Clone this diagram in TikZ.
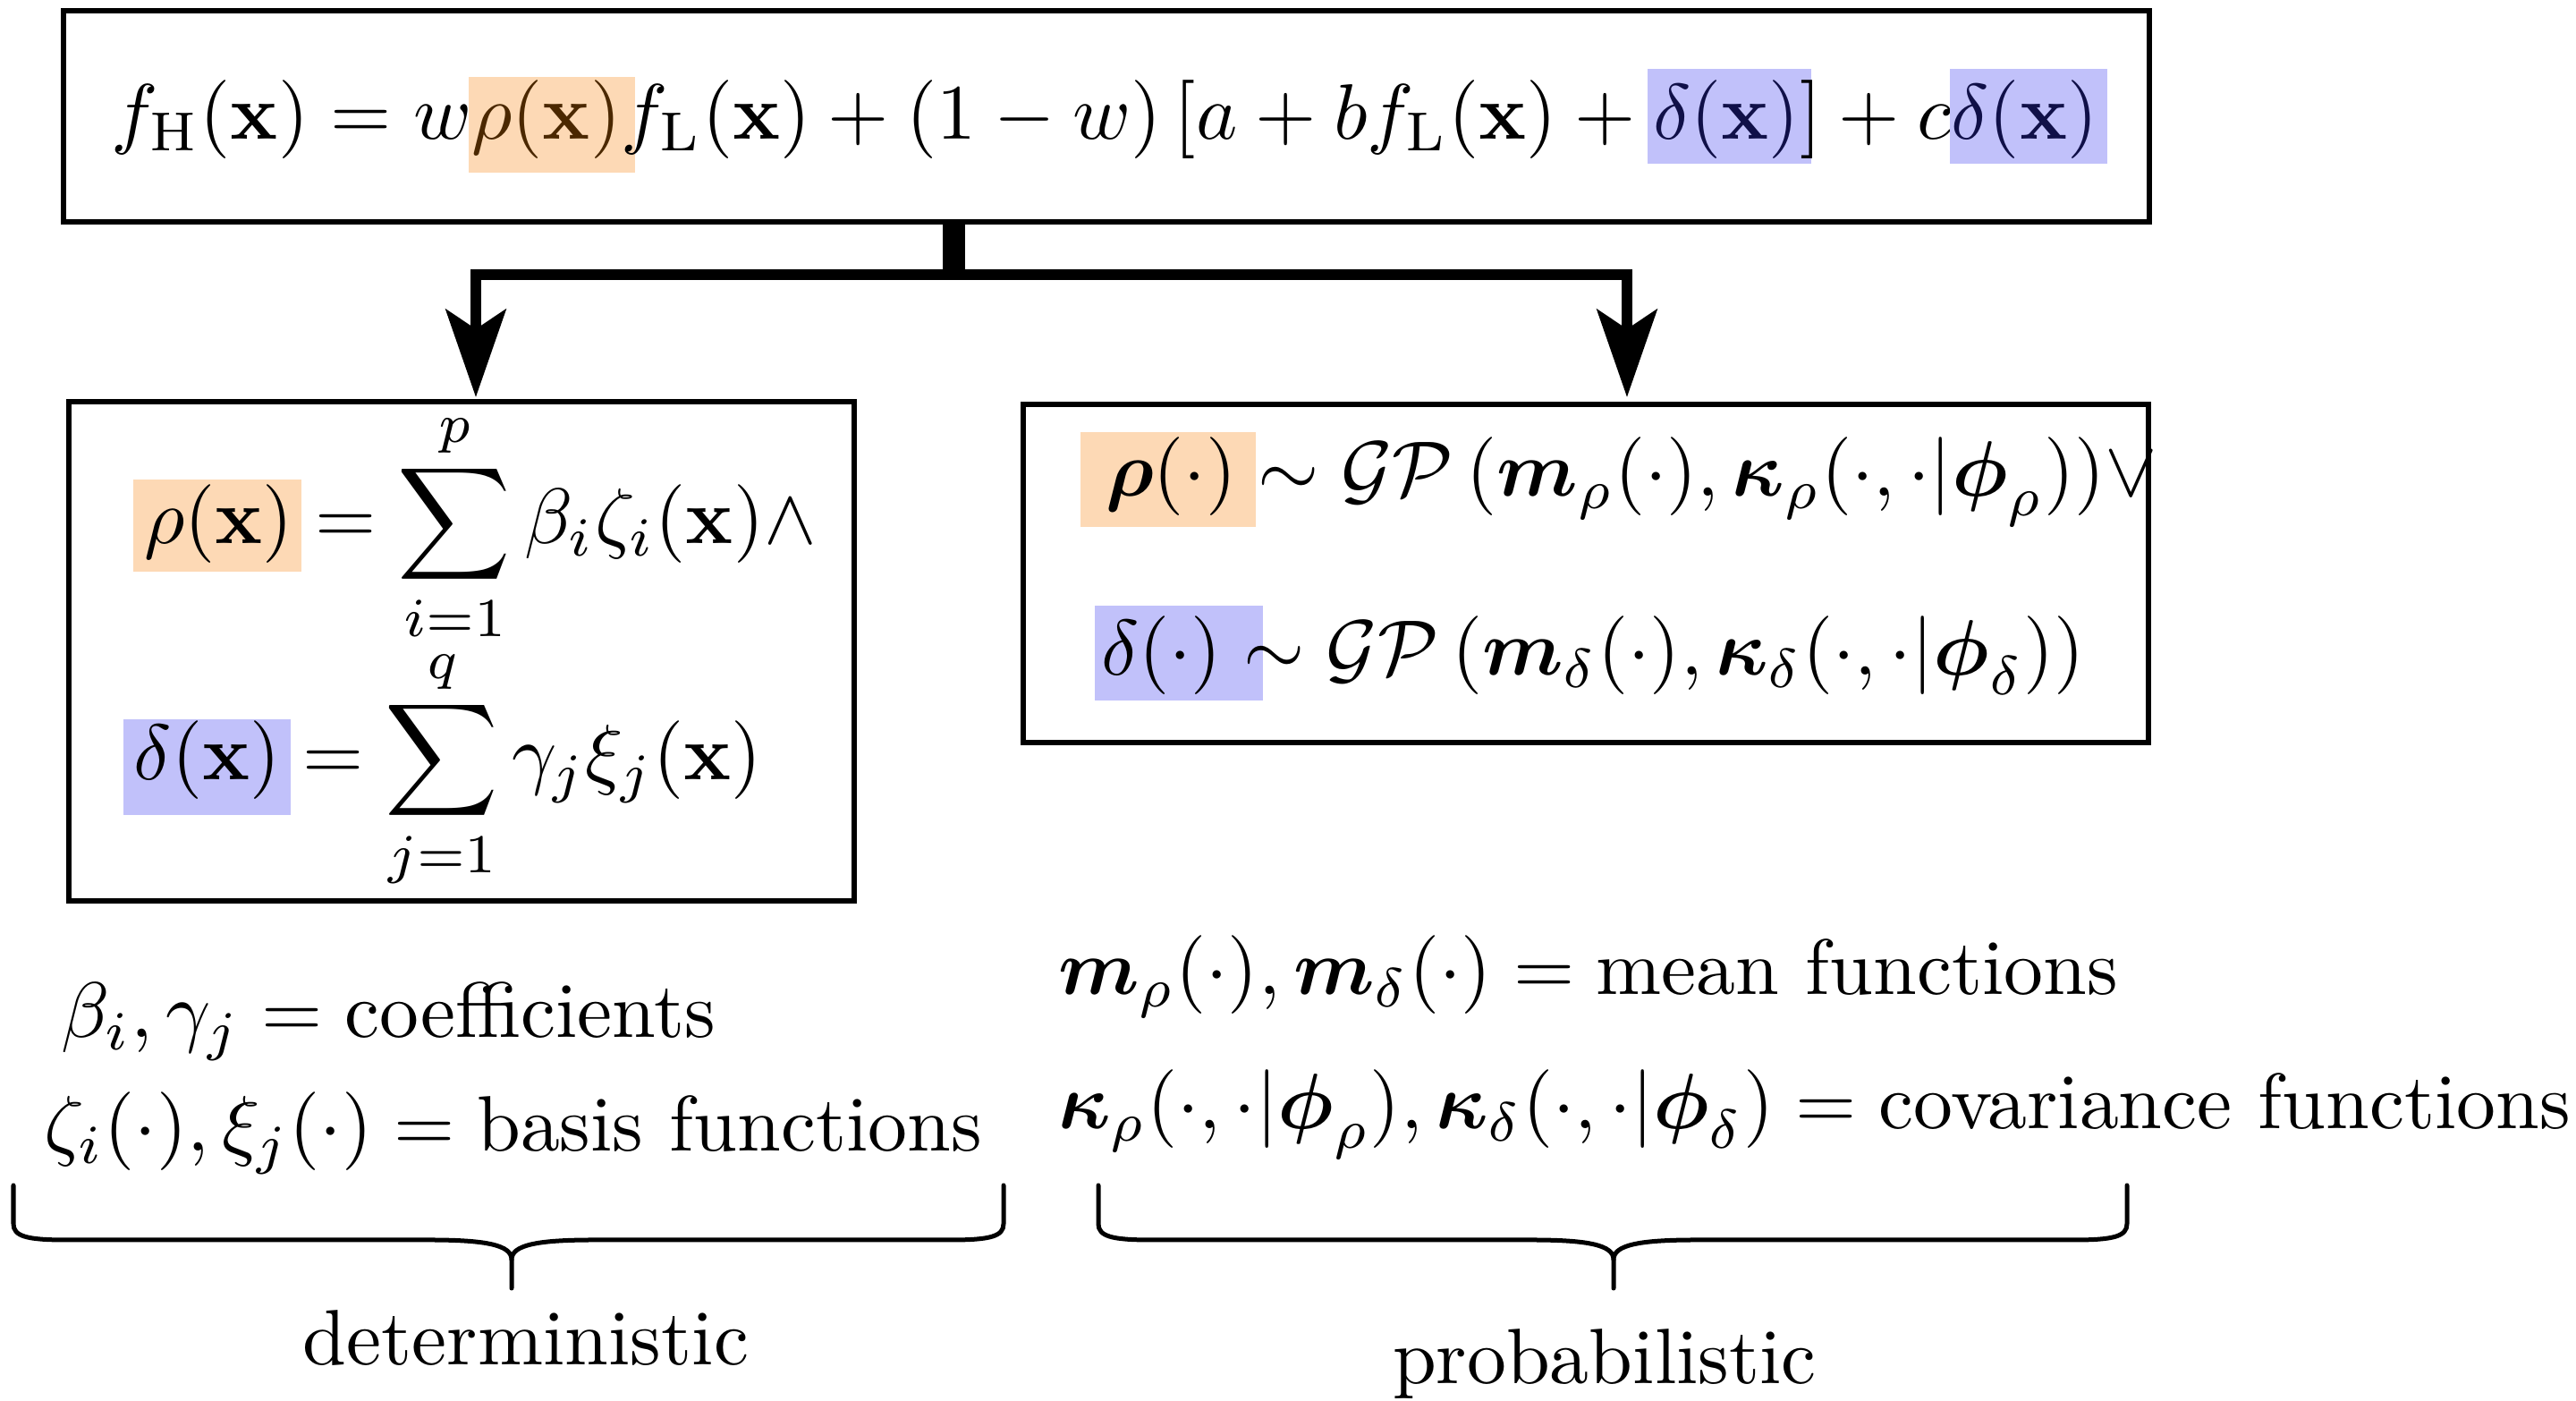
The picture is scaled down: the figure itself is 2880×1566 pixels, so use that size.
\documentclass[tikz,border=0pt]{standalone}
\usepackage{amsmath,amssymb}
\usetikzlibrary{arrows.meta}
\definecolor{hlorange}{RGB}{253,217,181}
\definecolor{hlblue}{RGB}{193,193,250}
\definecolor{hlotext}{RGB}{75,40,0}
\definecolor{hlbtext}{RGB}{16,16,72}
% #1 bg colour, #2 left pad, #3 right pad, #4 height above baseline, #5 depth, #6 math content
\newcommand{\hlm}[6]{\setbox0=\hbox{$\displaystyle #6$}\mathord{\kern-#2\rlap{\color{#1}\rule[-#5]{\dimexpr\wd0+#2+#3\relax}{\dimexpr#4+#5\relax}}\kern#2\box0}}
\tikzset{
  every node/.style={font=\fontsize{10pt}{12pt}\selectfont, inner sep=0pt, outer sep=0pt},
  box/.style={draw, line width=0.684pt, rectangle},
  stem/.style={line width=2.85pt},
  bar/.style={line width=1.37pt, line join=miter, -{Stealth[length=11.17pt,width=7.64pt,inset=2.5pt]}},
  brace/.style={line width=0.57pt, line cap=round, line join=round},
  eq/.style={anchor=base west},
  lbl/.style={anchor=base},
}
\begin{document}
\begin{tikzpicture}[x=0.11396pt, y=-0.11396pt]
\useasboundingbox (0,0) rectangle (2880,1566);
% boxes
\node[box, minimum width=265.75pt, minimum height=26.89pt] (top) at (1237,130) {};
\node[box, minimum width=100.06pt, minimum height=63.59pt] (left) at (516,728) {};
\node[box, minimum width=143.36pt, minimum height=43.08pt] (right) at (1773,641) {};
% top equation
\node[lbl] (topeq) at (1235,155.5) {$f_{\mathrm{H}}(\mathbf{x}) = w\hlm{hlorange}{0.34pt}{1.82pt}{7.92pt}{4.27pt}{\color{hlotext}\rho(\mathbf{x})}f_{\mathrm{L}}(\mathbf{x}) + (1-w)\,[a + bf_{\mathrm{L}}(\mathbf{x}) + \hlm{hlblue}{0.68pt}{1.48pt}{8.95pt}{3.13pt}{\color{hlbtext}\delta(\mathbf{x})}] + c\hlm{hlblue}{0.23pt}{1.25pt}{8.95pt}{3.13pt}{\color{hlbtext}\delta(\mathbf{x})}$};
% connectors
\coordinate (j) at (1066,307);
\coordinate (la) at (532,444);
\coordinate (ra) at (1819,444);
\draw[stem] (j |- top.south) -- (j);
\draw[bar] (j) -| (la);
\draw[bar] (j) -| (ra);
% left box content
\node[eq] (l1) at (161,608) {$\displaystyle \hlm{hlorange}{1.37pt}{1.03pt}{8.2pt}{3.53pt}{\rho(\mathbf{x})} = \sum_{i=1}^{p}\beta_i\zeta_i(\mathbf{x})\wedge$};
\node[eq] (l2) at (150,872) {$\displaystyle \hlm{hlblue}{1.37pt}{1.25pt}{7.75pt}{4.44pt}{\delta(\mathbf{x})} = \sum_{j=1}^{q}\gamma_j\xi_j(\mathbf{x})$};
% right box content
\node[eq] (r1) at (1236,555) {$\hlm{hlorange}{3.19pt}{2.5pt}{8.2pt}{3.87pt}{\boldsymbol{\rho}(\cdot)} \sim \mathcal{GP}\,(\boldsymbol{m}_\rho(\cdot), \boldsymbol{\kappa}_\rho(\cdot,\cdot|\boldsymbol{\phi}_\rho))\vee$};
\node[eq] (r2) at (1231,755) {$\hlm{hlblue}{0.8pt}{5.24pt}{8.89pt}{3.19pt}{\delta(\cdot)} \sim \mathcal{GP}\,(\boldsymbol{m}_\delta(\cdot), \boldsymbol{\kappa}_\delta(\cdot,\cdot|\boldsymbol{\phi}_\delta))$};
% definitions below
\node[eq] (d1) at (68,1160) {$\beta_i, \gamma_j = \text{coefficients}$};
\node[eq] (d2) at (49,1287) {$\zeta_i(\cdot), \xi_j(\cdot) = \text{basis functions}$};
\node[eq] (p1) at (1183,1112) {$\boldsymbol{m}_\rho(\cdot), \boldsymbol{m}_\delta(\cdot) = \text{mean functions}$};
\node[eq] (p2) at (1183,1262) {$\boldsymbol{\kappa}_\rho(\cdot,\cdot|\boldsymbol{\phi}_\rho), \boldsymbol{\kappa}_\delta(\cdot,\cdot|\boldsymbol{\phi}_\delta) = \text{covariance functions}$};
% braces
\draw[brace] (15,1325) -- (15,1368) .. controls (15,1382) and (30,1386) .. (74,1386) -- (480,1386) .. controls (545,1386) and (572,1392) .. (572,1408) -- (572,1440);
\draw[brace] (1122,1325) -- (1122,1368) .. controls (1122,1382) and (1107,1386) .. (1063,1386) -- (664,1386) .. controls (599,1386) and (572,1392) .. (572,1408);
\draw[brace] (1228,1325) -- (1228,1368) .. controls (1228,1382) and (1243,1386) .. (1287,1386) -- (1712,1386) .. controls (1777,1386) and (1804,1392) .. (1804,1408) -- (1804,1440);
\draw[brace] (2378,1325) -- (2378,1368) .. controls (2378,1382) and (2363,1386) .. (2319,1386) -- (1896,1386) .. controls (1831,1386) and (1804,1392) .. (1804,1408);
\node[lbl] (det) at (588,1526) {deterministic};
\node[lbl] (prob) at (1794,1547) {probabilistic};
\end{tikzpicture}
\end{document}
